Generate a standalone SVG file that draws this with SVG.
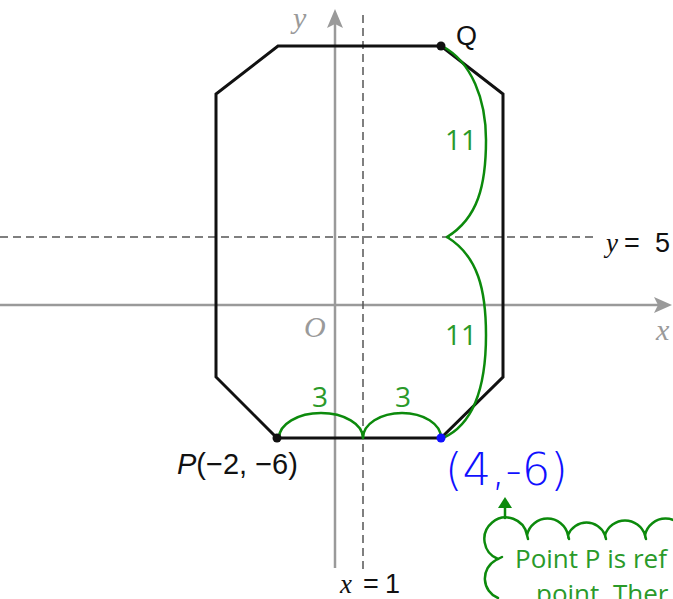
<svg xmlns="http://www.w3.org/2000/svg" width="673" height="599" viewBox="0 0 673 599">
<defs>
<style>
.axis{stroke:#9a9a9a;stroke-width:2.5;fill:none}
.axhead{fill:#9a9a9a}
.dash{stroke:#555;stroke-width:1.5;stroke-dasharray:8 5;fill:none}
.shape{stroke:#111;stroke-width:3;fill:none;stroke-linejoin:miter}
.grn{stroke:#0c8a0c;stroke-width:2.5;fill:none;stroke-linecap:round}
.gtxt{fill:#2a9a2a;font-family:"Open Sans","Noto Sans",sans-serif;font-size:28px}
.ctxt{fill:#2a9a2a;font-family:"Open Sans","Noto Sans",sans-serif;font-size:26px}
.lbl{fill:#111;font-family:"Liberation Sans",Arial,sans-serif;font-size:27px}
.big{font-size:29px}
.it{font-family:"Liberation Serif","Times New Roman",serif;font-style:italic}
.gray{fill:#9a9a9a;font-family:"Liberation Serif","Times New Roman",serif;font-style:italic;font-size:30px}
</style>
</defs>
<rect width="673" height="599" fill="#fff"/>
<g id="axes">
<line class="axis" x1="0" y1="305" x2="660" y2="305"/>
<polygon class="axhead" points="672,305 654,297 658,305 654,313"/>
<line class="axis" x1="335" y1="568" x2="335" y2="22"/>
<polygon class="axhead" points="335,9 327,28 335,24 343,28"/>
<text class="gray" x="293" y="28">y</text>
<text class="gray" x="656" y="340">x</text>
<text class="gray" x="304" y="337">O</text>
</g>
<g id="lines">
<line class="dash" x1="363" y1="15" x2="363" y2="570"/>
<line class="dash" x1="0" y1="237" x2="598" y2="237"/>
<text class="lbl" y="252"><tspan class="it" x="606">y</tspan><tspan x="624">=</tspan><tspan x="655">5</tspan></text>
<text class="lbl" y="593"><tspan class="it" x="340">x</tspan><tspan x="363">=</tspan><tspan x="385">1</tspan></text>
</g>
<g id="octagon">
<polygon class="shape" points="278,46 441,46 503,94 503,377 441,438 277,438 216,377 216,94"/>
</g>
<g id="connectors">
<path class="grn" d="M 442 46 C 472 62, 486 100, 486 140 C 486 185, 478 218, 447 237"/>
<path class="grn" d="M 447 237 C 478 256, 486 290, 486 335 C 486 390, 472 425, 443 438"/>
<path class="grn" d="M 279 438 A 42 25 0 0 1 363 438"/>
<path class="grn" d="M 363 438 A 39 25 0 0 1 441 438"/>
<line class="grn" x1="505" y1="518" x2="505" y2="507"/>
<polygon fill="#0c8a0c" points="505,497 498,508 512,508"/>
</g>
<g id="labels">
<text class="gtxt" x="445" y="150">11</text>
<text class="gtxt" x="445" y="345">11</text>
<text class="gtxt" x="312" y="407">3</text>
<text class="gtxt" x="395" y="407">3</text>
</g>
<g id="pointQ">
<circle cx="441" cy="46" r="4.5" fill="#111"/>
<text class="lbl" x="456" y="45">Q</text>
</g>
<g id="pointP">
<circle cx="277" cy="438" r="4.5" fill="#111"/>
<text class="lbl big" x="177" y="474"><tspan style="font-style:italic">P</tspan>(−2, −6)</text>
</g>
<g id="image">
<circle cx="441" cy="438" r="4.5" fill="#1010ff"/>
<text x="445" y="485" fill="#1010ff" font-family="'DejaVu Sans',sans-serif" font-weight="200" font-size="45">(4,-6)</text>
</g>
<g id="callout">
<path class="grn" d="M 498 559 A 21.5 21.5 0 1 1 527 535 A 21 21 0 0 1 568 535 A 20 20 0 0 1 605 535 A 21 21 0 0 1 645 535 A 21 21 0 0 1 686 535"/>
<path class="grn" d="M 527 535 L 528 539 M 568 535 L 569 539 M 605 535 L 606 539 M 645 535 L 646 539"/>
<path class="grn" d="M 502 557 L 496 560 A 21 21 0 0 0 498 598"/>
<text class="ctxt" x="515" y="568">Point P is ref</text>
<text class="ctxt" x="536" y="603">point. Ther</text>
</g>
</svg>
